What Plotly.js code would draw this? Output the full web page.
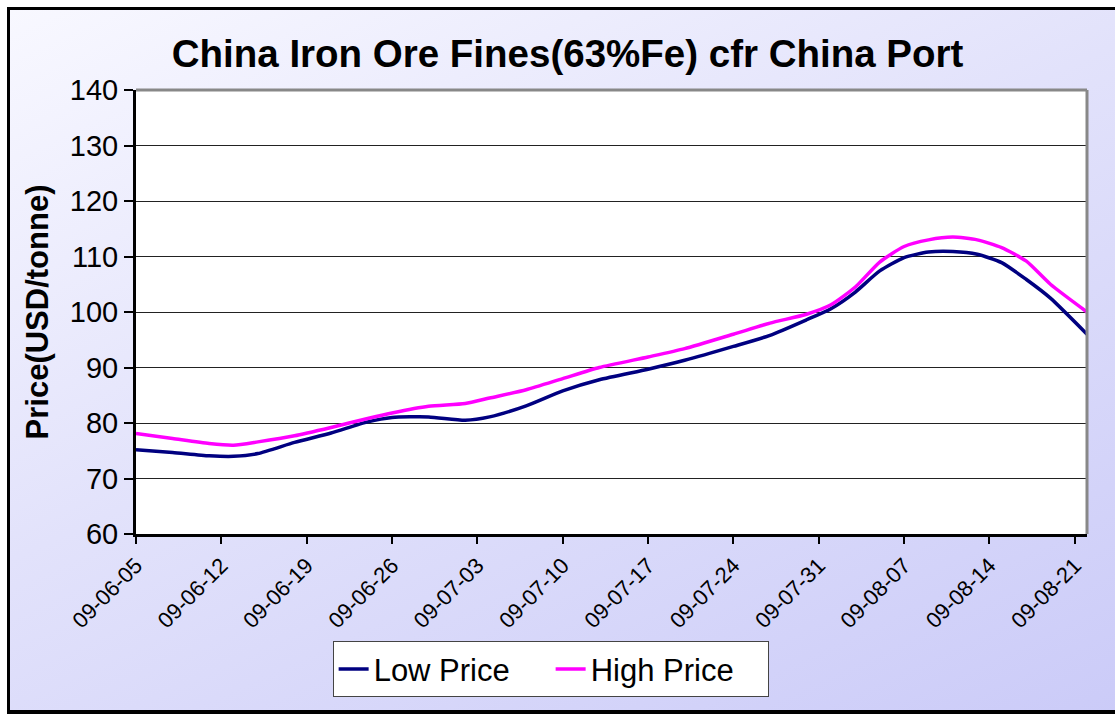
<!DOCTYPE html>
<html>
<head>
<meta charset="utf-8">
<script src="https://cdn.plot.ly/plotly-3.0.1.min.js"></script>
<style>
html,body{margin:0;padding:0;background:#fff;}
#frame{position:absolute;left:7px;top:7px;width:1120px;height:700px;border-left:3px solid #000;border-top:3px solid #000;border-bottom:4px solid #000;
background:linear-gradient(155deg,#f8f8ff 0%,#e2e2fb 45%,#cbcbf8 100%);}
#chart{position:absolute;left:0;top:0;width:1115px;height:716px;}
</style>
</head>
<body>
<div id="frame"></div>
<div id="chart"></div>
<script>
const dates = ['2009-06-05','2009-06-08','2009-06-11','2009-06-13','2009-06-15','2009-06-18','2009-06-21','2009-06-24','2009-06-26','2009-06-29','2009-07-02','2009-07-04','2009-07-07','2009-07-10','2009-07-13','2009-07-17','2009-07-20','2009-07-24','2009-07-27','2009-07-30','2009-08-01','2009-08-03','2009-08-05','2009-08-07','2009-08-09','2009-08-11','2009-08-13','2009-08-15','2009-08-17','2009-08-19','2009-08-22'];
const lowPrice  = [75.2,74.7,74.1,74.0,74.5,76.5,78.2,80.2,81.0,81.1,80.5,81.1,83.1,85.8,87.8,89.7,91.3,93.8,95.8,98.6,100.6,103.6,107.4,109.8,110.8,110.9,110.4,108.9,105.9,102.5,96.0];
const highPrice = [78.1,77.2,76.3,76.0,76.6,77.7,79.2,80.8,81.8,83.0,83.5,84.5,86.0,88.0,90.0,91.9,93.4,96.0,98.0,99.6,101.3,104.5,109.0,111.8,113.0,113.5,113.0,111.6,109.2,105.0,100.0];
const seriesNames = ['Low Price','High Price'];
const yTicks = [60,70,80,90,100,110,120,130,140];

const font = 'Liberation Sans, Arial, sans-serif';
const traces = [
  {x: dates, y: lowPrice, name: seriesNames[0], type: 'scatter', mode: 'lines',
   line: {color: '#000080', width: 3.5, shape: 'spline', smoothing: 0.6}},
  {x: dates, y: highPrice, name: seriesNames[1], type: 'scatter', mode: 'lines',
   line: {color: '#FF00FF', width: 3.5, shape: 'spline', smoothing: 0.6}}
];
const layout = {
  width: 1115, height: 716,
  paper_bgcolor: 'rgba(0,0,0,0)', plot_bgcolor: '#ffffff',
  margin: {l: 136, r: 28, t: 90, b: 182},
  title: {text: '<b>China Iron Ore Fines(63%Fe) cfr China Port</b>', font: {family: font, size: 38.5, color: '#000'},
          x: 0.509, xanchor: 'center', y: 0.925, yanchor: 'middle'},
  xaxis: {type: 'date', range: ['2009-06-05', '2009-08-22'], tick0: '2009-06-05', dtick: 7*24*3600*1000,
          tickformat: '%y-%m-%d', tickangle: -45, tickfont: {family: font, size: 22, color: '#000'},
          showgrid: false, zeroline: false, showline: true, linecolor: '#000', linewidth: 3,
          ticks: 'outside', ticklen: 7, tickwidth: 2, tickcolor: '#000', fixedrange: true},
  yaxis: {range: [60, 140], tickvals: yTicks, ticktext: yTicks.map(String),
          tickfont: {family: font, size: 29, color: '#000'},
          title: {text: '<b>Price(USD/tonne)</b>', font: {family: font, size: 31, color: '#000'}, standoff: 12},
          showgrid: true, gridcolor: '#222', gridwidth: 1, zeroline: false,
          showline: true, linecolor: '#000', linewidth: 3,
          ticks: 'outside', ticklen: 9, tickwidth: 2, tickcolor: '#000', fixedrange: true},
  shapes: [
    {type: 'line', xref: 'paper', yref: 'paper', x0: 0, x1: 1, y0: 1, y1: 1, line: {color: '#888', width: 3}},
    {type: 'line', xref: 'paper', yref: 'paper', x0: 1, x1: 1, y0: 0, y1: 1, line: {color: '#888', width: 3}}
  ],
  showlegend: true,
  legend: {orientation: 'h', x: 0.436, xanchor: 'center', y: -0.305, yanchor: 'middle',
           bgcolor: '#ffffff', bordercolor: '#444', borderwidth: 1, entrywidth: 172,
           font: {family: font, size: 31, color: '#000'}}
};
Plotly.newPlot('chart', traces, layout, {displayModeBar: false, staticPlot: true});
</script>
</body>
</html>
